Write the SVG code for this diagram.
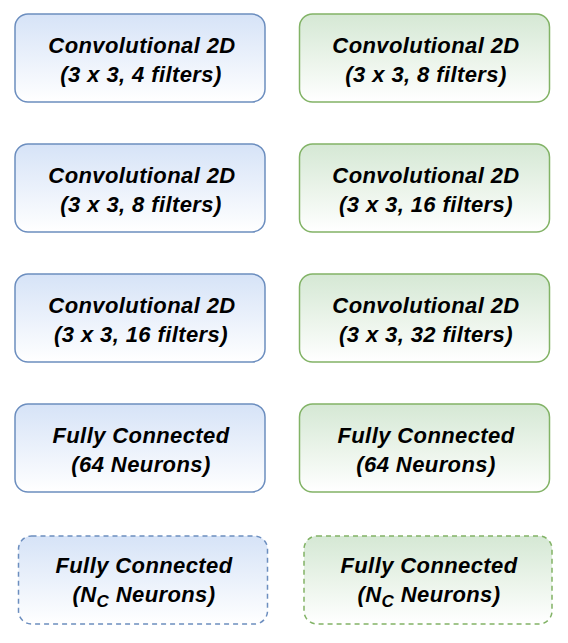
<svg xmlns="http://www.w3.org/2000/svg" width="568" height="643" viewBox="0 0 568 643">
<defs>
<linearGradient id="gb" x1="0" y1="0" x2="0" y2="1"><stop offset="0" stop-color="#d6e3f7"/><stop offset="1" stop-color="#ffffff"/></linearGradient>
<linearGradient id="gg" x1="0" y1="0" x2="0" y2="1"><stop offset="0" stop-color="#d5e8d4"/><stop offset="1" stop-color="#ffffff"/></linearGradient>
</defs>
<style>
.b{fill:url(#gb);stroke:#6c8ebf;stroke-width:1.5}
.g{fill:url(#gg);stroke:#82b366;stroke-width:1.5}
.d{stroke-dasharray:5 4}
text{font-family:"Liberation Sans",Arial,sans-serif;font-size:22px;font-weight:bold;font-style:italic;fill:#000;text-anchor:middle;letter-spacing:0.4px}
.s{font-size:17px}
</style>
<g id="connectors"/>
<g id="n1"><rect class="b" x="15" y="14" width="250" height="88" rx="13"/><text x="142" y="53">Convolutional 2D</text><text x="141" y="82">(3 x 3, 4 filters)</text></g>
<g id="n2"><rect class="g" x="299.5" y="14" width="250" height="88" rx="13"/><text x="426" y="53">Convolutional 2D</text><text x="426" y="82">(3 x 3, 8 filters)</text></g>
<g id="n3"><rect class="b" x="15" y="144" width="250" height="88" rx="13"/><text x="142" y="183">Convolutional 2D</text><text x="141" y="212">(3 x 3, 8 filters)</text></g>
<g id="n4"><rect class="g" x="299.5" y="144" width="250" height="88" rx="13"/><text x="426" y="183">Convolutional 2D</text><text x="426" y="212">(3 x 3, 16 filters)</text></g>
<g id="n5"><rect class="b" x="15" y="274" width="250" height="88" rx="13"/><text x="142" y="313">Convolutional 2D</text><text x="141" y="342">(3 x 3, 16 filters)</text></g>
<g id="n6"><rect class="g" x="299.5" y="274" width="250" height="88" rx="13"/><text x="426" y="313">Convolutional 2D</text><text x="426" y="342">(3 x 3, 32 filters)</text></g>
<g id="n7"><rect class="b" x="15" y="404" width="250" height="88" rx="13"/><text x="141" y="443">Fully Connected</text><text x="141" y="472">(64 Neurons)</text></g>
<g id="n8"><rect class="g" x="299.5" y="404" width="250" height="88" rx="13"/><text x="426" y="443">Fully Connected</text><text x="426" y="472">(64 Neurons)</text></g>
<g id="n9"><rect class="b d" x="18.5" y="536" width="249" height="88" rx="13"/><text x="144" y="573">Fully Connected</text><text x="144" y="602">(N<tspan class="s" dy="5">C</tspan><tspan dy="-5"> Neurons)</tspan></text></g>
<g id="n10"><rect class="g d" x="304" y="536" width="248" height="88" rx="13"/><text x="429" y="573">Fully Connected</text><text x="429" y="602">(N<tspan class="s" dy="5">C</tspan><tspan dy="-5"> Neurons)</tspan></text></g>
</svg>
